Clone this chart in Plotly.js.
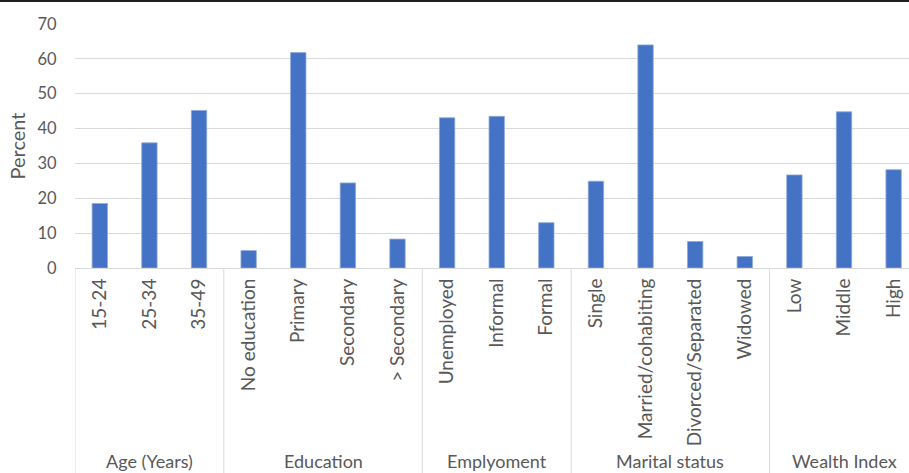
<!DOCTYPE html>
<html>
<head>
<meta charset="utf-8">
<script src="https://cdn.plot.ly/plotly-3.0.1.min.js"></script>
<style>
  html, body { margin: 0; padding: 0; background: #fff; overflow: hidden; }
  #chart { width: 909px; height: 471px; border-top: 2px solid #1f1f1f; }
</style>
</head>
<body>
<div id="chart"></div>
<script>
// Data
const groups = ["Age (Years)", "Education", "Emplyoment", "Marital status", "Wealth Index"];
const groupCategories = [
  ["15-24", "25-34", "35-49"],
  ["No education", "Primary", "Secondary", "> Secondary"],
  ["Unemployed", "Informal", "Formal"],
  ["Single", "Married/cohabiting", "Divorced/Separated", "Widowed"],
  ["Low", "Middle", "High"]
];
const ageValues = [18.5, 35.9, 45.2];
const educationValues = [5.0, 61.8, 24.4, 8.3];
const employmentValues = [43.1, 43.5, 13.0];
const maritalValues = [24.9, 64.0, 7.6, 3.3];
const wealthValues = [26.7, 44.8, 28.2];
const yTicks = [0, 10, 20, 30, 40, 50, 60, 70];

const groupValues = [ageValues, educationValues, employmentValues, maritalValues, wealthValues];
const labels = [].concat(...groupCategories);
const values = [].concat(...groupValues);
const idx = labels.map((_, i) => i);

const fontFam = "Lato, 'Open Sans', sans-serif";
const grey = "#595959";

// group separators and labels
const shapes = [];
const annotations = [];
let start = 0;
groupCategories.forEach((cats, g) => {
  const end = start + cats.length;
  shapes.push({
    type: "line", xref: "x", yref: "paper",
    x0: start - 0.5, x1: start - 0.5, y0: 0, y1: -1.0,
    line: { color: "#d9d9d9", width: 1 }
  });
  annotations.push({
    xref: "x", yref: "paper",
    x: (start + end - 1) / 2, y: -0.79,
    xanchor: "center", yanchor: "middle",
    text: groups[g], showarrow: false,
    font: { family: fontFam, size: 18, color: grey }
  });
  start = end;
});

const trace = {
  type: "bar",
  x: idx,
  y: values,
  width: 0.31,
  marker: { color: "#4472C4", line: { color: "#8eaadb", width: 0.8 } },
  hoverinfo: "y"
};

const layout = {
  width: 909, height: 471,
  margin: { l: 75, r: 0, t: 22, b: 205 },
  paper_bgcolor: "#fff", plot_bgcolor: "#fff",
  showlegend: false,
  bargap: 0,
  xaxis: {
    range: [-0.5, 16.31],
    tickmode: "array", tickvals: idx, ticktext: labels,
    tickangle: -90,
    ticks: "outside", ticklen: 2, tickcolor: "rgba(0,0,0,0)",
    tickfont: { family: fontFam, size: 19, color: grey },
    showgrid: false, zeroline: false,
    showline: true, linecolor: "#d9d9d9", linewidth: 1
  },
  yaxis: {
    range: [0, 70],
    tickmode: "array", tickvals: yTicks,
    ticks: "outside", ticklen: 14, tickcolor: "rgba(0,0,0,0)",
    tickfont: { family: fontFam, size: 16.5, color: grey },
    gridcolor: "#d9d9d9", gridwidth: 1,
    zeroline: false, showline: false,
    title: { text: "Percent", standoff: 6, font: { family: fontFam, size: 20, color: grey } }
  },
  shapes: shapes,
  annotations: annotations,
  font: { family: fontFam, color: grey }
};

Plotly.newPlot("chart", [trace], layout, { displayModeBar: false, staticPlot: true });
</script>
</body>
</html>
